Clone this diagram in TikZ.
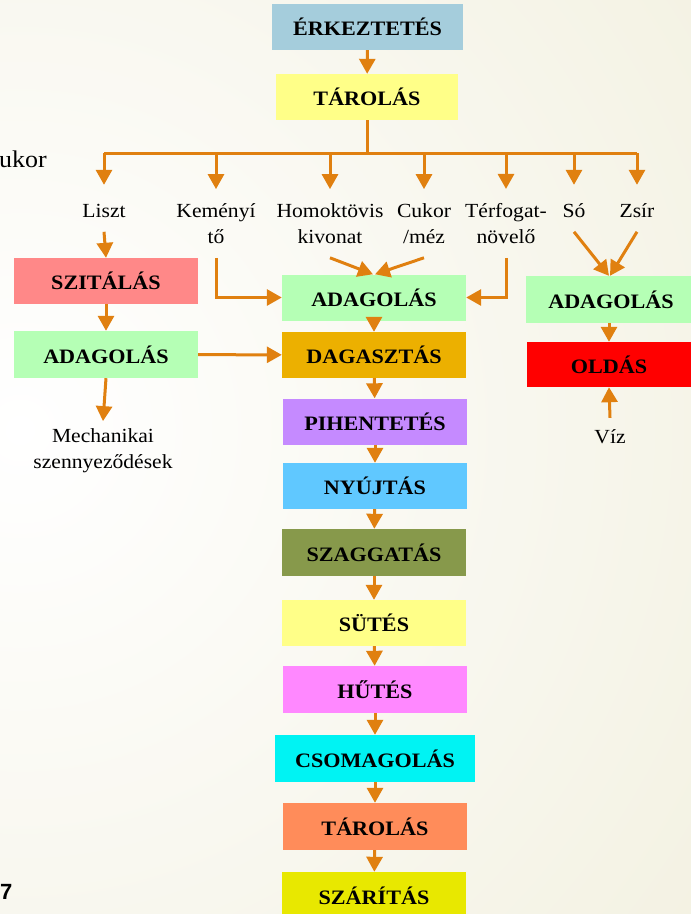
\documentclass[tikz,border=0pt]{standalone}
\usepackage{fontspec}
\setmainfont{Liberation Serif}[FakeStretch=1.08]
\newfontfamily\pagenumfont{Liberation Sans}
\usetikzlibrary{arrows.meta}

\definecolor{arrowc}{RGB}{224,128,16}
\definecolor{bgbeige}{RGB}{230,226,194}
\definecolor{cErk}{RGB}{165,205,220}
\definecolor{cTar}{RGB}{255,255,136}
\definecolor{cSzit}{RGB}{255,136,136}
\definecolor{cAdag}{RGB}{181,255,181}
\definecolor{cDagasz}{RGB}{236,176,0}
\definecolor{cPiht}{RGB}{197,138,255}
\definecolor{cNyuj}{RGB}{96,200,255}
\definecolor{cSzagg}{RGB}{135,153,75}
\definecolor{cHut}{RGB}{255,136,255}
\definecolor{cCsom}{RGB}{0,243,243}
\definecolor{cTarII}{RGB}{255,140,90}
\definecolor{cSzar}{RGB}{232,232,0}
\definecolor{cOld}{RGB}{255,0,0}

\tikzset{
  box/.style={minimum width=184pt, minimum height=46pt, inner sep=0pt,
    font=\fontsize{20.5}{24}\selectfont\bfseries},
  lbl/.style={inner sep=0pt, outer ysep=7pt, align=center,
    font=\fontsize{20}{26}\selectfont,
    execute at begin node=\strut, execute at end node=\strut},
  pipe/.style={draw=arrowc, line width=3pt},
  arr/.style={pipe, -{Triangle[width=16pt,length=15pt]}},
}

\begin{document}
\begin{tikzpicture}[x=1pt,y=1pt,yscale=-1,xscale=1]

% --- 0. 背景（左侧偏白，右侧米黄色） ---
\useasboundingbox (0,0) rectangle (691,914);
\begin{scope}
  \clip (0,0) rectangle (691,914);
  \fill[bgbeige] (0,0) rectangle (691,914);
  \shade[inner color=white, outer color=bgbeige] (20,430) circle (1800);
\end{scope}

% 左边露出的文字
\node[anchor=base west, inner sep=0pt, font=\fontsize{24}{28}\selectfont] (ukor) at (-1,167) {ukor};
\node[anchor=base west, inner sep=0pt, font=\pagenumfont\bfseries\fontsize{22}{26}\selectfont] (pnum) at (0,899) {7};

% --- 1. 中间主流程 ---
\node[box, fill=cErk, minimum width=191pt] (erk) at (367.5,27) {ÉRKEZTETÉS};
\node[box, fill=cTar, minimum width=182pt] (tar1) at (367,97) {TÁROLÁS};

\node[box, fill=cAdag] (adagC) at (374,297.5) {ADAGOLÁS};
\node[box, fill=cDagasz] (dagasz) at (374,355) {DAGASZTÁS};
\node[box, fill=cPiht] (piht) at (375,421.5) {PIHENTETÉS};
\node[box, fill=cNyuj] (nyuj) at (375,486) {NYÚJTÁS};
\node[box, fill=cSzagg, minimum height=47pt] (szagg) at (374,552.5) {SZAGGATÁS};
\node[box, fill=cTar] (sutes) at (374,623) {SÜTÉS};
\node[box, fill=cHut, minimum height=47pt] (hutes) at (375,689.5) {HŰTÉS};
\node[box, fill=cCsom, minimum width=200pt, minimum height=47pt] (csom) at (375,758.5) {CSOMAGOLÁS};
\node[box, fill=cTarII, minimum height=47pt] (tar2) at (375,826.5) {TÁROLÁS};
\node[box, fill=cSzar, minimum height=48pt] (szar) at (374,896) {SZÁRÍTÁS};

% --- 2. 左边：面粉支路 ---
\node[box, fill=cSzit] (szit) at (106,281) {SZITÁLÁS};
\node[box, fill=cAdag, minimum height=47pt] (adagL) at (106,354.5) {ADAGOLÁS};
\node[lbl, anchor=base] (mech) at (103,468) {Mechanikai\\szennyeződések};

% --- 3. 右边：盐和油 ---
\node[box, fill=cAdag, minimum width=170pt, minimum height=47pt] (adagR) at (611,299.5) {ADAGOLÁS};
\node[box, fill=cOld, minimum width=164pt, minimum height=45pt] (olda) at (609,364.5) {OLDÁS};
\node[lbl, anchor=base] (viz) at (610,443) {Víz};

% --- 4. 原料标签（两行的按第二行基线放） ---
\node[lbl, anchor=base] (liszt) at (104,217) {Liszt};
\node[lbl, anchor=base] (kem) at (216,243) {Keményí\\tő};
\node[lbl, anchor=base] (homok) at (330,243) {Homoktövis\\kivonat};
\node[lbl, anchor=base] (cukor) at (424,243) {Cukor\\/méz};
\node[lbl, anchor=base] (terf) at (506,243) {Térfogat-\\növelő};
\node[lbl, anchor=base] (so) at (574,217) {Só};
\node[lbl, anchor=base] (zsir) at (637,217) {Zsír};

% --- 5. 分配总线 ---
\coordinate (bus) at (367,153);
\draw[pipe] (tar1.south) -- (bus);
\draw[pipe] (liszt.north |- bus) -- (zsir.north |- bus);
\foreach \n in {liszt,kem,homok,cukor,terf,so,zsir}
  \draw[arr, shorten >=7pt] (\n.north |- bus) -- (\n.north);

% --- 6. 箭头 ---
\draw[arr] (erk) -- (tar1);
\draw[arr] (liszt.south) -- (szit.north);
\draw[arr] (szit) -- (adagL);
\draw[arr] (adagL.south) -- (mech.north);
\draw[arr] (adagL) -- (dagasz);
\draw[arr] (kem.south) |- (adagC.west);
\draw[arr] (terf.south) |- (adagC.east);
\draw[arr] (homok.south) -- ([xshift=-1pt]adagC.north);
\draw[arr] (cukor.south) -- ([xshift=1pt]adagC.north);
\draw[arr] (so.south) -- ([xshift=-2pt]adagR.north);
\draw[arr] (zsir.south) -- ([xshift=-1pt]adagR.north);
\draw[arr] ([xshift=-2pt]adagR.south) -- (olda);
\draw[arr] (viz.north) -- (olda.south);

\foreach \a/\b in {adagC/dagasz,dagasz/piht,piht/nyuj,nyuj/szagg,szagg/sutes,
                   sutes/hutes,hutes/csom,csom/tar2,tar2/szar}
  \draw[arr] (\a) -- (\b);

\end{tikzpicture}
\end{document}
